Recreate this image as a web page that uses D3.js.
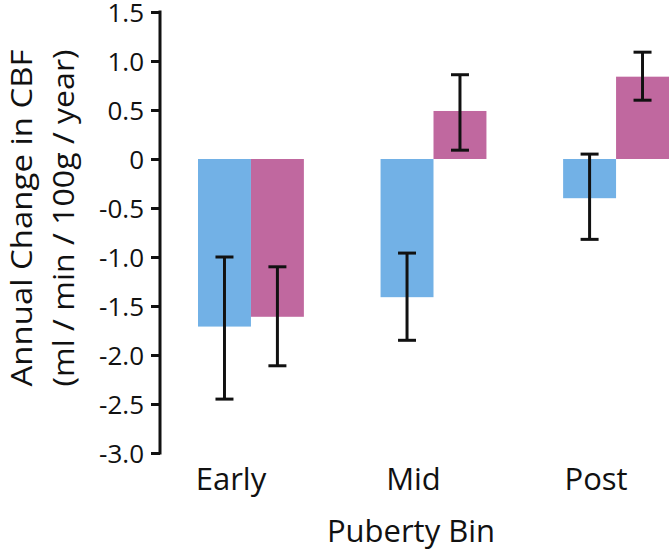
<!DOCTYPE html>
<html>
<head>
<meta charset="utf-8">
<script src="https://cdn.jsdelivr.net/npm/d3@7"></script>
<style>
body { margin: 0; background: #fff; }
svg { display: block; }
text { font-family: "Open Sans", "Noto Sans", sans-serif; fill: #111; }
</style>
</head>
<body>
<svg id="chart" width="672" height="553"></svg>
<script>
// puberty bins and the two series (blue, pink)
var bins = ["Early", "Mid", "Post"];
var series = ["blue", "pink"];
var blueValues = [-1.71, -1.41, -0.40];
var pinkValues = [-1.61, 0.49, 0.84];
var blueErrHigh = [-1.00, -0.96, 0.05];
var blueErrLow = [-2.45, -1.85, -0.82];
var pinkErrHigh = [-1.10, 0.86, 1.09];
var pinkErrLow = [-2.11, 0.09, 0.60];
var yTicks = [1.5, 1.0, 0.5, 0, -0.5, -1.0, -1.5, -2.0, -2.5, -3.0];

var COLORS = { blue: "#72b1e6", pink: "#c0689f" };

var svg = d3.select("#chart");

var y = d3.scaleLinear().domain([-3, 1.5]).range([453, 12]);
var x = d3.scaleBand().domain(bins).range([198, 669]).paddingInner(0.42).paddingOuter(0);
var xs = d3.scaleBand().domain(series).range([0, x.bandwidth()]);

var rows = [];
bins.forEach(function(b, i) {
	rows.push({ bin: b, s: "blue", v: blueValues[i], hi: blueErrHigh[i], lo: blueErrLow[i] });
	rows.push({ bin: b, s: "pink", v: pinkValues[i], hi: pinkErrHigh[i], lo: pinkErrLow[i] });
});

// bars
svg.append("g").selectAll("rect")
	.data(rows)
	.enter().append("rect")
	.attr("x", function(d) { return x(d.bin) + xs(d.s); })
	.attr("width", xs.bandwidth())
	.attr("y", function(d) { return y(Math.max(0, d.v)); })
	.attr("height", function(d) { return Math.abs(y(d.v) - y(0)); })
	.attr("fill", function(d) { return COLORS[d.s]; });

// error bars
var CAP = 9;
var err = svg.append("g").attr("stroke", "#111").attr("stroke-width", 3);
rows.forEach(function(d) {
	var cx = x(d.bin) + xs(d.s) + xs.bandwidth() / 2;
	err.append("line").attr("x1", cx).attr("x2", cx).attr("y1", y(d.hi)).attr("y2", y(d.lo));
	err.append("line").attr("x1", cx - CAP).attr("x2", cx + CAP).attr("y1", y(d.hi)).attr("y2", y(d.hi));
	err.append("line").attr("x1", cx - CAP).attr("x2", cx + CAP).attr("y1", y(d.lo)).attr("y2", y(d.lo));
});

// y axis
var fmt = d3.format(".1f");
var yAxis = svg.append("g")
	.attr("transform", "translate(160,0)")
	.call(d3.axisLeft(y).tickValues(yTicks).tickSize(9).tickSizeOuter(0)
		.tickFormat(function(v) { return v === 0 ? "0" : fmt(v).replace("\u2212", "-"); }));
yAxis.select(".domain").attr("stroke", "#111").attr("stroke-width", 3)
	.attr("d", "M0," + (y(1.5) - 1.5) + "V" + (y(-3) + 1.5));
yAxis.selectAll(".tick line").attr("stroke", "#111").attr("stroke-width", 3);
yAxis.selectAll(".tick text")
	.attr("x", -16)
	.attr("dy", "0.36em")
	.style("font-size", "26px")
	.style("font-family", "'Open Sans', sans-serif")
	.attr("fill", "#111");

// x labels (no axis line)
var xAxis = svg.append("g")
	.attr("transform", "translate(0,458)")
	.call(d3.axisBottom(x).tickSize(0));
xAxis.select(".domain").remove();
xAxis.selectAll(".tick text")
	.attr("x", -20)
	.attr("y", 0)
	.attr("dy", "32")
	.style("font-size", "31px")
	.style("font-family", "'Open Sans', sans-serif")
	.attr("fill", "#111");

svg.append("text")
	.attr("x", 411)
	.attr("y", 542)
	.attr("text-anchor", "middle")
	.style("font-size", "31px")
	.text("Puberty Bin");

// y title, two lines
var yTitle = svg.append("g").attr("transform", "translate(0,218) rotate(-90)");
yTitle.append("text")
	.attr("x", 0).attr("y", 32)
	.attr("text-anchor", "middle")
	.attr("textLength", 337)
	.attr("lengthAdjust", "spacingAndGlyphs")
	.style("font-size", "30px")
	.text("Annual Change in CBF");
yTitle.append("text")
	.attr("x", 0).attr("y", 74)
	.attr("text-anchor", "middle")
	.attr("textLength", 337)
	.attr("lengthAdjust", "spacingAndGlyphs")
	.style("font-size", "30px")
	.text("(ml / min / 100g / year)");
</script>
</body>
</html>
